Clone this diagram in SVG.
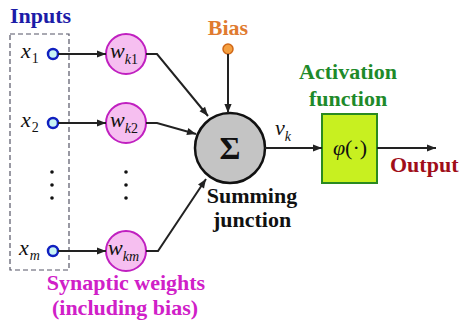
<svg xmlns="http://www.w3.org/2000/svg" width="465" height="325" viewBox="0 0 465 325">
<style>
.lbl{font-weight:bold;font-size:22px}
.math{font-style:italic;font-size:22px;fill:#111}
.sub{font-size:14px}
.in{fill:#c8f4f4;stroke:#1020c0;stroke-width:2.5}
.w{fill:#f6bff0;stroke:#c020c0;stroke-width:2}
.ln{fill:none;stroke:#222;stroke-width:2;marker-end:url(#ah)}
.dot{fill:#111}
</style>
<defs>
<marker id="ah" viewBox="0 0 10 10" refX="10" refY="5" markerWidth="6" markerHeight="4.5" orient="auto" markerUnits="strokeWidth"><path d="M0,1 L10,5 L0,9 Z" fill="#222"/></marker>
</defs>
<rect width="465" height="325" fill="#fff"/>
<g font-family="Liberation Serif, serif">
<g id="inputs">
<text class="lbl" x="10" y="23" fill="#1c1ca8">Inputs</text>
<rect x="10" y="34" width="59" height="236" fill="none" stroke="#556" stroke-width="1.2" stroke-dasharray="5,3"/>
<text class="math" x="21" y="58">x<tspan class="sub" dx="1" dy="5" font-style="normal">1</tspan></text>
<text class="math" x="21" y="127">x<tspan class="sub" dx="1" dy="5" font-style="normal">2</tspan></text>
<text class="math" x="19" y="255">x<tspan class="sub" dx="1" dy="5">m</tspan></text>
<circle class="in" cx="53" cy="54" r="5"/>
<circle class="in" cx="53" cy="123" r="5"/>
<circle class="in" cx="53" cy="251" r="5"/>
<circle class="dot" cx="52" cy="172" r="1.8"/>
<circle class="dot" cx="52" cy="185" r="1.8"/>
<circle class="dot" cx="52" cy="198" r="1.8"/>
</g>
<g id="weights">
<circle class="w" cx="126" cy="54" r="20"/>
<text class="math" x="110" y="58">w<tspan class="sub" dy="6">k</tspan><tspan class="sub" font-style="normal">1</tspan></text>
<circle class="w" cx="126" cy="123" r="20"/>
<text class="math" x="110" y="127">w<tspan class="sub" dy="6">k</tspan><tspan class="sub" font-style="normal">2</tspan></text>
<circle class="w" cx="126" cy="251" r="20"/>
<text class="math" x="108" y="255">w<tspan class="sub" dy="6" font-size="13">km</tspan></text>
<circle class="dot" cx="126" cy="172" r="1.8"/>
<circle class="dot" cx="126" cy="185" r="1.8"/>
<circle class="dot" cx="126" cy="198" r="1.8"/>
<text class="lbl" x="126" y="290" text-anchor="middle" fill="#d020c8">Synaptic weights</text>
<text class="lbl" x="125" y="315" text-anchor="middle" fill="#d020c8">(including bias)</text>
</g>
<g id="bias">
<text class="lbl" x="228" y="35" text-anchor="middle" fill="#e07b30">Bias</text>
<circle cx="228" cy="49" r="5" fill="#f5a040" stroke="#d06818" stroke-width="1.5"/>
</g>
<g id="sum">
<circle cx="230" cy="148" r="35" fill="#c4c4c4" stroke="#111" stroke-width="2.5"/>
<text x="230" y="159" text-anchor="middle" font-weight="bold" font-size="32" fill="#111">Σ</text>
<text class="lbl" x="252" y="203" text-anchor="middle" fill="#111">Summing</text>
<text class="lbl" x="252" y="227" text-anchor="middle" fill="#111">junction</text>
</g>
<g id="activation">
<text class="lbl" x="348" y="79" text-anchor="middle" fill="#1e8a2a">Activation</text>
<text class="lbl" x="348" y="106" text-anchor="middle" fill="#1e8a2a">function</text>
<rect x="322" y="114" width="55" height="69" fill="#c8f020" stroke="#2a8a20" stroke-width="2"/>
<text x="350" y="155" text-anchor="middle" font-size="22" fill="#111"><tspan font-style="italic">φ</tspan>(·)</text>
</g>
<g id="output">
<text class="lbl" x="390" y="172" font-size="23" fill="#a00e1a">Output</text>
</g>
<g id="connectors">
<line class="ln" x1="58" y1="54" x2="106" y2="54"/>
<line class="ln" x1="58" y1="123" x2="106" y2="123"/>
<line class="ln" x1="58" y1="251" x2="106" y2="251"/>
<polyline class="ln" points="146,54 157,54 208,116"/>
<polyline class="ln" points="146,123 157,123 196,134"/>
<polyline class="ln" points="146,251 158,251 206,179"/>
<line class="ln" x1="228" y1="54" x2="228" y2="113"/>
<line class="ln" x1="265" y1="148" x2="322" y2="148"/>
<line class="ln" x1="377" y1="148" x2="436" y2="148"/>
<text class="math" x="275" y="135" font-size="20">v<tspan class="sub" dy="6">k</tspan></text>
</g>
</g>
</svg>
